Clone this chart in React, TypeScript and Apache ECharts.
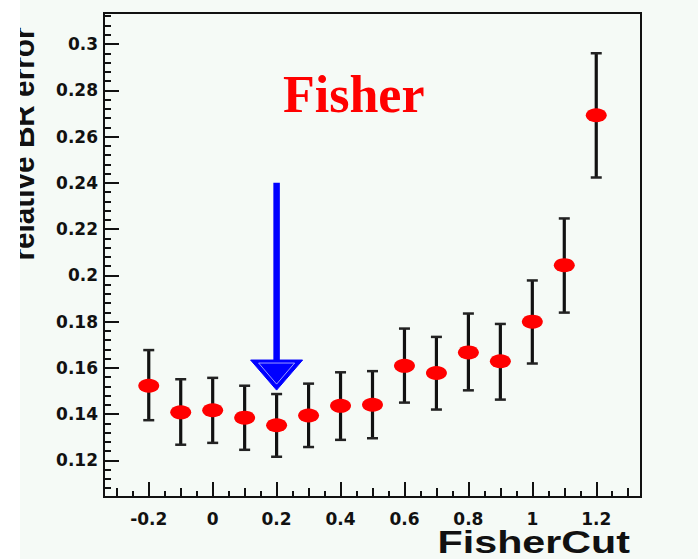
import React, { useEffect, useRef } from "react";
import * as echarts from "echarts";

// ---- data ----
const fisherCut = [-0.2, -0.1, 0, 0.1, 0.2, 0.3, 0.4, 0.5, 0.6, 0.7, 0.8, 0.9, 1.0, 1.1, 1.2];
const relBrError = [0.1523, 0.1408, 0.1417, 0.1385, 0.1352, 0.1394, 0.1436, 0.1441, 0.1609, 0.1578, 0.1667, 0.1629, 0.18, 0.2044, 0.2692];
const errLow = [0.1374, 0.1268, 0.1276, 0.1246, 0.1216, 0.1258, 0.1289, 0.1296, 0.145, 0.142, 0.1503, 0.1463, 0.1619, 0.1839, 0.2423];
const errHigh = [0.1677, 0.1551, 0.1557, 0.1523, 0.1487, 0.1532, 0.1581, 0.1586, 0.177, 0.1734, 0.1835, 0.179, 0.1978, 0.2246, 0.296];

const xTickLabels = [-0.2, 0, 0.2, 0.4, 0.6, 0.8, 1, 1.2];
const yTickLabels = [0.12, 0.14, 0.16, 0.18, 0.2, 0.22, 0.24, 0.26, 0.28, 0.3];

const xRange = [-0.34, 1.34];
const yRange = [0.1042, 0.3134];

// chosen cut marked by the arrow: [x, arrow start, head base, tip]
const arrowCut = 0.2;
const arrowFrom = 0.24;
const arrowHeadBase = 0.1634;
const arrowTip = 0.1504;

const titleText = "Fisher";
const xTitle = "FisherCut";
const yTitle = "relative BR error";

function stepValues(lo: number, hi: number, step: number, dec: number) {
  const out: number[] = [];
  const start = Math.ceil(lo / step - 1e-9);
  const end = Math.floor(hi / step + 1e-9);
  const f = Math.pow(10, dec);
  for (let k = start; k <= end; k++) out.push(Math.round(k * step * f) / f);
  return out;
}

export default function App() {
  const ref = useRef<HTMLDivElement>(null);
  useEffect(() => {
    if (!ref.current) return;
    const chart = echarts.init(ref.current, undefined, { renderer: "svg" });
    const labelFont = {
      fontFamily: "DejaVu Sans",
      fontWeight: "bold" as const,
      fontSize: 17,
      color: "#111",
    };
    const xMid = stepValues(xRange[0], xRange[1], 0.1, 2);
    const xMinor = stepValues(xRange[0], xRange[1], 0.05, 3);
    const yMinor = stepValues(yRange[0], yRange[1], 0.004, 4);
    const fmt = (v: number) => String(v);
    const tickStyle = { color: "#111", width: 2 };

    const baseX = {
      type: "value" as const,
      min: xRange[0],
      max: xRange[1],
      position: "bottom" as const,
      axisLine: { show: false, onZero: false },
      splitLine: { show: false },
    };
    const baseY = {
      type: "value" as const,
      min: yRange[0],
      max: yRange[1],
      position: "left" as const,
      axisLine: { show: false, onZero: false },
      splitLine: { show: false },
    };

    chart.setOption({
      animation: false,
      backgroundColor: "#f5faf6",
      grid: {
        left: 104,
        top: 13,
        right: 57,
        bottom: 62,
        show: true,
        borderColor: "#111",
        borderWidth: 2,
        backgroundColor: "transparent",
      },
      xAxis: [
        {
          ...baseX,
          axisTick: { inside: true, length: 15, lineStyle: tickStyle, customValues: xTickLabels },
          axisLabel: { ...labelFont, margin: 13, customValues: xTickLabels, formatter: fmt },
        },
        {
          ...baseX,
          axisTick: { inside: true, length: 9, lineStyle: tickStyle, customValues: xMid },
          axisLabel: { show: false },
        },
        {
          ...baseX,
          axisTick: { inside: true, length: 6, lineStyle: tickStyle, customValues: xMinor },
          axisLabel: { show: false },
        },
      ],
      yAxis: [
        {
          ...baseY,
          axisTick: { inside: true, length: 15, lineStyle: tickStyle, customValues: yTickLabels },
          axisLabel: { ...labelFont, margin: 6, customValues: yTickLabels, formatter: fmt },
        },
        {
          ...baseY,
          axisTick: { inside: true, length: 7, lineStyle: tickStyle, customValues: yMinor },
          axisLabel: { show: false },
        },
      ],
      series: [
        {
          type: "custom",
          name: "error",
          xAxisIndex: 0,
          yAxisIndex: 0,
          z: 2,
          data: fisherCut.map((x, i) => [x, relBrError[i], errLow[i], errHigh[i]]),
          encode: { x: 0, y: 1 },
          renderItem: (params: any, api: any) => {
            const x = api.value(0);
            const lo = api.coord([x, api.value(2)]);
            const hi = api.coord([x, api.value(3)]);
            const cw = 5.5;
            return {
              type: "group",
              children: [
                { type: "line", shape: { x1: hi[0], y1: hi[1], x2: lo[0], y2: lo[1] }, style: { stroke: "#111", lineWidth: 3.2 } },
                { type: "line", shape: { x1: hi[0] - cw, y1: hi[1], x2: hi[0] + cw, y2: hi[1] }, style: { stroke: "#222", lineWidth: 2.5 } },
                { type: "line", shape: { x1: lo[0] - cw, y1: lo[1], x2: lo[0] + cw, y2: lo[1] }, style: { stroke: "#222", lineWidth: 2.5 } },
              ],
            };
          },
        },
        {
          type: "scatter",
          name: "relative BR error",
          xAxisIndex: 0,
          yAxisIndex: 0,
          z: 3,
          symbol: "circle",
          symbolSize: [21, 14],
          itemStyle: { color: "#ff0000", opacity: 1 },
          data: fisherCut.map((x, i) => [x, relBrError[i]]),
        },
        {
          type: "custom",
          name: "cut",
          xAxisIndex: 0,
          yAxisIndex: 0,
          z: 4,
          clip: false,
          data: [[arrowCut, arrowFrom, arrowHeadBase, arrowTip]],
          encode: { x: 0, y: 1 },
          renderItem: (params: any, api: any) => {
            const x = api.value(0);
            const top = api.coord([x, api.value(1)]);
            const base = api.coord([x, api.value(2)]);
            const tip = api.coord([x, api.value(3)]);
            const hw = 26;
            return {
              type: "group",
              children: [
                { type: "line", shape: { x1: top[0], y1: top[1], x2: base[0], y2: base[1] + 1 }, style: { stroke: "#0000ff", lineWidth: 6.5 } },
                {
                  type: "polygon",
                  shape: { points: [[base[0] - hw, base[1]], [base[0] + hw, base[1]], [tip[0], tip[1]]] },
                  style: { fill: "#0000ff", stroke: "#0000ff", lineWidth: 1 },
                },
                {
                  type: "polygon",
                  shape: { points: [[base[0] - hw + 8, base[1] + 3], [base[0] + hw - 8, base[1] + 3], [tip[0], tip[1] - 6]] },
                  style: { fill: "none", stroke: "rgba(255,255,255,0.6)", lineWidth: 1 },
                },
              ],
            };
          },
        },
      ],
      graphic: [
        {
          type: "text",
          x: 283,
          y: 94.5,
          z: 10,
          style: {
            text: titleText,
            font: 'bold 52px "Liberation Serif"',
            fill: "#ff0000",
            align: "left",
            verticalAlign: "middle",
          },
        },
        {
          type: "text",
          x: 630,
          y: 542,
          scaleX: 1.33,
          z: 10,
          style: {
            text: xTitle,
            font: 'bold 31px "Liberation Sans"',
            fill: "#111",
            align: "right",
            verticalAlign: "middle",
          },
        },
        {
          type: "text",
          x: 23,
          y: 144,
          rotation: Math.PI / 2,
          scaleX: 0.93,
          z: 10,
          style: {
            text: yTitle,
            font: 'bold 32px "Liberation Sans"',
            fill: "#111",
            align: "center",
            verticalAlign: "middle",
          },
        },
        {
          type: "rect",
          z: 20,
          shape: { x: 0, y: 0, width: 20, height: 559 },
          style: { fill: "#ffffff" },
        },
      ],
    });
    return () => chart.dispose();
  }, []);
  return (
    <div
      ref={ref}
      style={{ position: "fixed", left: 0, top: 0, width: 698, height: 559 }}
    />
  );
}
